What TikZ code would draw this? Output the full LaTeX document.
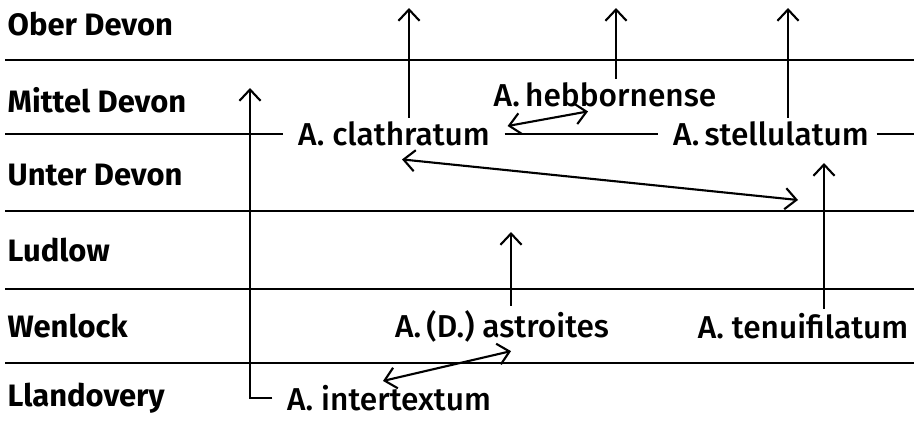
\documentclass[tikz,border=0pt]{standalone}
\usepackage{fontspec}
\setmainfont{Fira Sans}
\newfontfamily\specfont{Fira Sans Medium}
\usetikzlibrary{arrows.meta}

\tikzset{
  period/.style={anchor=west,inner sep=0pt,font=\fontsize{8.8}{10}\selectfont\bfseries},
  species/.style={inner xsep=4pt,inner ysep=1pt,font=\fontsize{9}{11}\specfont},
  bound/.style={line width=0.6pt},
  link/.style={line width=0.6pt,-{Straight Barb[length=3.2pt,width=6pt]}},
  both/.style={line width=0.6pt,{Straight Barb[length=3.2pt,width=6pt]}-{Straight Barb[length=3.2pt,width=6pt]}}
}

\begin{document}
\begin{tikzpicture}[x=0.01cm,y=-0.01cm]
\useasboundingbox (0,0) rectangle (916,421);
% periods
\node[period] (ober) at (7,24) {Ober Devon};
\node[period] (mittel) at (7,100) {Mittel Devon};
\node[period] (unter) at (7,175) {Unter Devon};
\node[period] (ludlow) at (7,250) {Ludlow};
\node[period] (wenlock) at (7,326) {Wenlock};
\node[period] (llando) at (7,398) {Llandovery};
% species
\node[species] (clath) at (394,134) {A. clathratum};
\node[species] (hebb) at (605,95) {A.\,hebbornense};
\node[species] (stell) at (771,134) {A.\,stellulatum};
\node[species] (astro) at (502,326) {A.\,(D.) astroites};
\node[species] (tenui) at (803,326) {A. tenuifilatum};
\node[species] (inter) at (389,398) {A. intertextum};
% free ends
\coordinate (l0) at (5,0);
\coordinate (r0) at (914,0);
\coordinate (u1) at (409,8);
\coordinate (u2) at (616,8);
\coordinate (u3) at (788,8);
\coordinate (u4) at (250,88);
\coordinate (u5) at (824,163);
\coordinate (u6) at (511,232);
\coordinate (k4) at (250,398);
% boundaries
\draw[bound] (l0 |- 0,60) -- (r0 |- 0,60);
\draw[bound] (l0 |- clath.west) -- (clath.west);
\draw[bound] (clath.east) -- (stell.west);
\draw[bound] ([xshift=-2pt]stell.east) -- (r0 |- stell.east);
\draw[bound] (l0 |- 0,211) -- (r0 |- 0,211);
\draw[bound] (l0 |- 0,289) -- (r0 |- 0,289);
\draw[bound] (l0 |- 0,363) -- (r0 |- 0,363);
% lineages
\draw[link] (clath.north -| u1) -- (u1);
\draw[link] (hebb.north -| u2) -- (u2);
\draw[link] (stell.north -| u3) -- (u3);
\draw[link] (inter.west) -- (k4) -- (u4);
\draw[link] (tenui.north -| u5) -- (u5);
\draw[link] (astro.north -| u6) -- (u6);
% relations
\draw[both] ([shift={(3,-8)}]clath.east) -- ([shift={(-17,0)}]hebb.south);
\draw[both] ([shift={(8,9)}]clath.south) -- ([shift={(-26,37)}]u5);
\draw[both] ([shift={(-6,0)}]inter.north) -- ([shift={(9,5)}]astro.south);
\end{tikzpicture}
\end{document}
